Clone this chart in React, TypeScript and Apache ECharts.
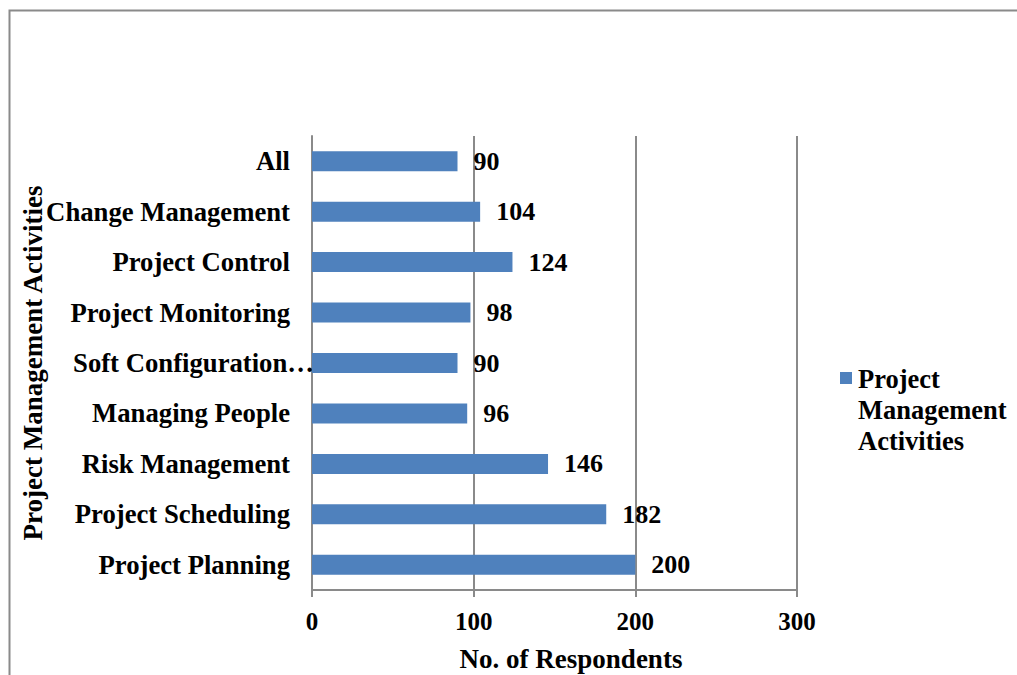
import React, { useEffect, useRef } from "react";
import * as echarts from "echarts";

const categories = [
  "Project Planning",
  "Project Scheduling",
  "Risk Management",
  "Managing People",
  "Soft Configuration…",
  "Project Monitoring",
  "Project Control",
  "Change Management",
  "All",
];
const values = [200, 182, 146, 96, 90, 98, 124, 104, 90];
const xTicks = [0, 100, 200, 300];
const seriesName = "Project Management Activities";
const xTitle = "No. of Respondents";
const yTitle = "Project Management Activities";

const FONT = "'Liberation Serif', 'Times New Roman', serif";
const GRAY = "#8a8a8a";
const BLUE = "#4F81BD";

export default function App() {
  const ref = useRef<HTMLDivElement>(null);
  useEffect(() => {
    document.body.style.margin = "0";
    if (!ref.current) return;
    const chart = echarts.init(ref.current, undefined, { renderer: "svg" });
    chart.setOption({
      animation: false,
      backgroundColor: "#ffffff",
      textStyle: { fontFamily: FONT },
      grid: { left: 312, right: 220, top: 136, bottom: 85, containLabel: false },
      xAxis: {
        type: "value",
        min: xTicks[0],
        max: xTicks[xTicks.length - 1],
        interval: 100,
        axisLine: { show: true, lineStyle: { color: GRAY, width: 2 } },
        axisTick: { show: true, length: 7, lineStyle: { color: GRAY, width: 2 } },
        splitLine: { show: true, lineStyle: { color: GRAY, width: 2 } },
        axisLabel: {
          margin: 19,
          color: "#000",
          fontFamily: FONT,
          fontWeight: "bold",
          fontSize: 25,
        },
      },
      yAxis: {
        type: "category",
        data: categories,
        axisLine: { show: true, lineStyle: { color: GRAY, width: 2 } },
        axisTick: { show: false },
        splitLine: { show: false },
        axisLabel: {
          margin: 22,
          color: "#000",
          fontFamily: FONT,
          fontWeight: "bold",
          fontSize: 26.7,
          formatter: (v: string) =>
            v.endsWith("…") ? `{trunc|${v}}` : v,
          rich: {
            trunc: {
              color: "#000",
              fontFamily: FONT,
              fontWeight: "bold",
              fontSize: 26.7,
              padding: [0, -24, 0, 0],
            },
          },
        },
      },
      series: [
        {
          name: seriesName,
          type: "bar",
          data: values,
          barWidth: 20,
          itemStyle: { color: BLUE },
          label: {
            show: true,
            position: "right",
            distance: 16,
            color: "#000",
            fontFamily: FONT,
            fontWeight: "bold",
            fontSize: 26,
          },
        },
      ],
      graphic: [
        {
          type: "rect",
          shape: { x: 9.5, y: 10.5, width: 1200, height: 1000 },
          style: { fill: "none", stroke: GRAY, lineWidth: 2 },
          silent: true,
        },
        {
          type: "text",
          x: 33,
          y: 363,
          rotation: Math.PI / 2,
          style: {
            text: yTitle,
            fontFamily: FONT,
            fontWeight: "bold",
            fontSize: 27,
            fill: "#000",
            align: "center",
            verticalAlign: "middle",
          },
        },
        {
          type: "text",
          x: 571,
          y: 659,
          style: {
            text: xTitle,
            fontFamily: FONT,
            fontWeight: "bold",
            fontSize: 27,
            fill: "#000",
            align: "center",
            verticalAlign: "middle",
          },
        },
        {
          type: "rect",
          shape: { x: 840, y: 372, width: 12, height: 12 },
          style: { fill: BLUE },
        },
        {
          type: "text",
          x: 858,
          y: 363,
          style: {
            text: "Project\nManagement\nActivities",
            fontFamily: FONT,
            fontWeight: "bold",
            fontSize: 26.5,
            lineHeight: 31,
            fill: "#000",
            align: "left",
            verticalAlign: "top",
          },
        },
      ],
    });
    return () => chart.dispose();
  }, []);
  return <div ref={ref} style={{ width: 1017, height: 675 }} />;
}
